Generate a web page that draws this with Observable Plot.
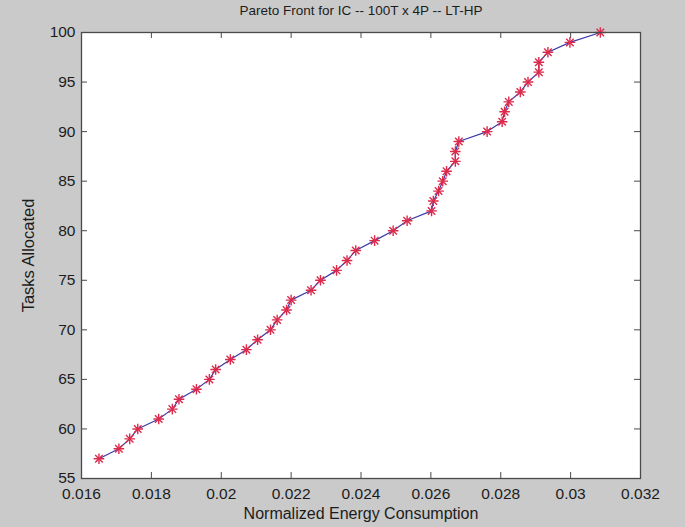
<!DOCTYPE html>
<html>
<head>
<meta charset="utf-8">
<script src="https://cdn.jsdelivr.net/npm/d3@7"></script>
<script src="https://cdn.jsdelivr.net/npm/@observablehq/plot@0.6"></script>
<style>
  html, body { margin: 0; padding: 0; background: #cacaca; }
  #chart svg { display: block; }
</style>
</head>
<body>
<div id="chart"></div>
<script>
const tasks = [57, 58, 59, 60, 61, 62, 63, 64, 65, 66, 67, 68, 69, 70, 71, 72, 73, 74, 75, 76, 77, 78,
  79, 80, 81, 82, 83, 84, 85, 86, 87, 88, 89, 90, 91, 92, 93, 94, 95, 96, 97, 98, 99, 100];
const energy = [0.01650, 0.01707, 0.01738, 0.01761, 0.01821, 0.01860, 0.01879, 0.01929, 0.01966, 0.01984,
  0.02026, 0.02072, 0.02104, 0.02141, 0.02160, 0.02187, 0.02200, 0.02257, 0.02284, 0.02330, 0.02360,
  0.02385, 0.02439, 0.02492, 0.02532, 0.02602, 0.02607, 0.02622, 0.02634, 0.02645, 0.02670, 0.02670,
  0.02680, 0.02761, 0.02804, 0.02811, 0.02823, 0.02856, 0.02878, 0.02909, 0.02909, 0.02935, 0.02998, 0.03085];
const xTicks = [0.016, 0.018, 0.020, 0.022, 0.024, 0.026, 0.028, 0.030, 0.032];
const yTicks = [55, 60, 65, 70, 75, 80, 85, 90, 95, 100];
const titleText = "Pareto Front for IC -- 100T x 4P -- LT-HP";
const xLabel = "Normalized Energy Consumption";
const yLabel = "Tasks Allocated";

const data = tasks.map((t, i) => ({tasks: t, energy: energy[i]}));

const W = 685, H = 527;
const mL = 81, mR = 45, mT = 32, mB = 49;
const innerH = H - mT - mB, innerW = W - mL - mR;
const tickLen = 6;
const axisColor = "#4a4a4a";
const textColor = "#1c1c1c";
const font = "'Liberation Sans', Arial, Helvetica, sans-serif";

const chart = Plot.plot({
  width: W,
  height: H,
  marginLeft: mL, marginRight: mR, marginTop: mT, marginBottom: mB,
  style: {background: "#cacaca", fontFamily: font, color: textColor},
  x: {domain: [0.016, 0.032], axis: null},
  y: {domain: [55, 100], axis: null},
  marks: [
    Plot.frame({fill: "white", stroke: null}),
    // inward ticks on all four sides
    Plot.tickX(xTicks, {x: d => d, insetTop: innerH - tickLen, stroke: axisColor, strokeWidth: 1}),
    Plot.tickX(xTicks, {x: d => d, insetBottom: innerH - tickLen, stroke: axisColor, strokeWidth: 1}),
    Plot.tickY(yTicks, {y: d => d, insetRight: innerW - tickLen, stroke: axisColor, strokeWidth: 1}),
    Plot.tickY(yTicks, {y: d => d, insetLeft: innerW - tickLen, stroke: axisColor, strokeWidth: 1}),
    Plot.axisX({ticks: xTicks, tickSize: 0, tickPadding: 9, fontSize: 15.5, fill: textColor,
      tickFormat: d => String(+d.toFixed(3)), label: null}),
    Plot.axisY({ticks: yTicks, tickSize: 0, tickPadding: 6, fontSize: 15.5, fill: textColor,
      tickFormat: d => String(d), label: null}),
    Plot.line(data, {x: "energy", y: "tasks", stroke: "#3a3aa8", strokeWidth: 1.2}),
    Plot.dot(data, {x: "energy", y: "tasks", symbol: "plus", r: 3.5, stroke: "#dc2a4c", strokeWidth: 1.4}),
    Plot.dot(data, {x: "energy", y: "tasks", symbol: "times", r: 3.5, stroke: "#dc2a4c", strokeWidth: 1.4}),
    Plot.frame({stroke: axisColor, strokeWidth: 1.3}),
    Plot.text([titleText], {frameAnchor: "top", lineAnchor: "middle", textAnchor: "middle", dy: -22,
      text: d => d, fontSize: 13.5, fill: textColor}),
    Plot.text([xLabel], {frameAnchor: "bottom", lineAnchor: "middle", textAnchor: "middle", dy: 35,
      text: d => d, fontSize: 16, fill: textColor}),
    Plot.text([yLabel], {frameAnchor: "left", lineAnchor: "middle", textAnchor: "middle", dx: -53, rotate: -90,
      text: d => d, fontSize: 16.5, fill: textColor})
  ]
});
document.getElementById("chart").appendChild(chart);
</script>
</body>
</html>
